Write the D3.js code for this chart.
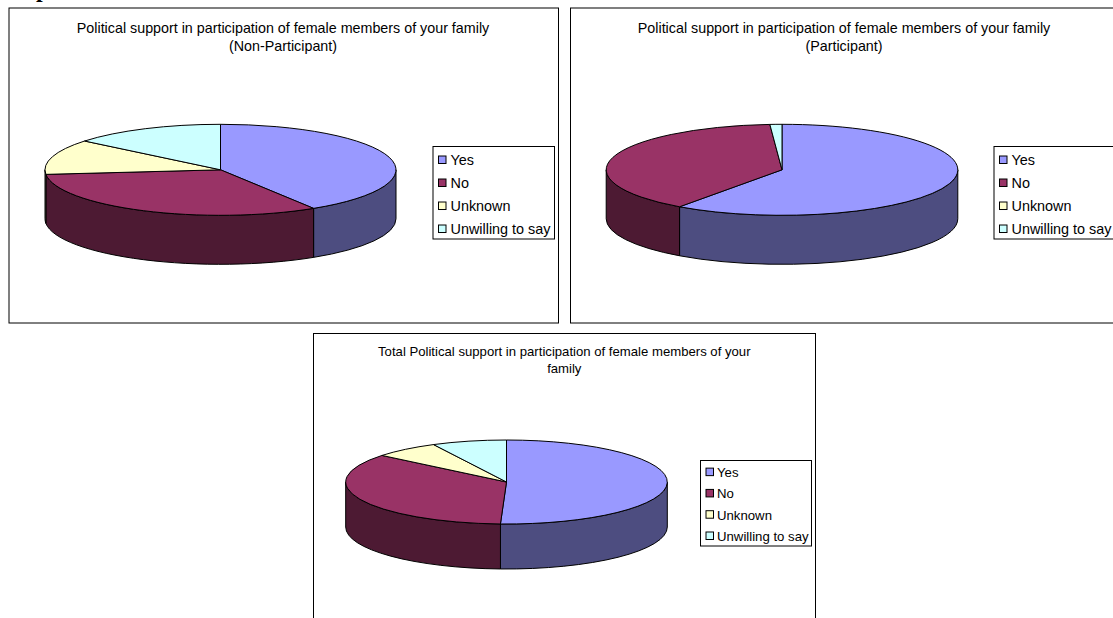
<!DOCTYPE html>
<html><head><meta charset="utf-8">
<style>html,body{margin:0;padding:0;background:#fff;overflow:hidden}svg{display:block}text{font-family:"Liberation Sans",Arial,sans-serif;fill:#000}</style>
<script src="https://cdn.jsdelivr.net/npm/d3@7"></script></head><body>
<script>
const categories = ["Yes","No","Unknown","Unwilling to say"];
const topColors = ["#9999FF","#993366","#FFFFCC","#CCFFFF"];
const sideColors = ["#4D4D80","#4D1A33","#808066","#668080"];
const nonParticipant = [41.1,32.3,12.5,14.1];
const participant = [59.9,39.0,0,1.1];
const total = [50.6,35.3,6.6,7.5];
const titles1 = ["Political support in participation of female members of your family","(Non-Participant)"];
const titles2 = ["Political support in participation of female members of your family","(Participant)"];
const titles3 = ["Total Political support in participation of female members of your","family"];

const charts = [
 {values:nonParticipant,title:titles1,frame:[9,8,549.5,315],cx:220.5,cy:169.8,rx:175.5,ry:45.5,d:49,titleX:283,titleY:[33,51],titleSize:14.3,legend:[433,146.5,121.5,92.5],legendSize:14.4,textOff:17.5,rows:[0.146,0.892]},
 {values:participant,title:titles2,frame:[570.5,8,560,315],cx:782,cy:169.8,rx:175.8,ry:45.5,d:49,titleX:844,titleY:[33,51],titleSize:14.3,legend:[994,146.5,121.5,92.5],legendSize:14.4,textOff:17.5,rows:[0.146,0.892]},
 {values:total,title:titles3,frame:[313.5,333.5,502,300],cx:506.5,cy:482,rx:160.8,ry:42,d:45,titleX:564.3,titleY:[356,372.7],titleSize:13.15,legend:[700.5,460.5,111,85.5],legendSize:13.2,textOff:16.5,rows:[0.136,0.883]}
];
const svg = d3.select("body").append("svg").attr("width",1113).attr("height",618);
svg.append("text").attr("x",36).attr("y",-3).attr("font-size",24).attr("font-weight","bold").style("font-family","'Liberation Serif',serif").text("p");

charts.forEach(c=>{
  const g = svg.append("g");
  g.append("rect").attr("x",c.frame[0]).attr("y",c.frame[1]).attr("width",c.frame[2]).attr("height",c.frame[3]).attr("fill","#fff").attr("stroke","#000").attr("stroke-width",1);
  c.title.forEach((t,i)=>g.append("text").attr("x",c.titleX).attr("y",c.titleY[i]).attr("text-anchor","middle").attr("font-size",c.titleSize).text(t));
  const arcs = d3.pie().sort(null).startAngle(0).endAngle(2*Math.PI)(c.values);
  const px = a=>c.cx+c.rx*Math.sin(a), py = a=>c.cy-c.ry*Math.cos(a);
  arcs.forEach(s=>{
    const a0=Math.max(s.startAngle,Math.PI/2), a1=Math.min(s.endAngle,3*Math.PI/2);
    if(a1<=a0) return;
    g.append("path").attr("fill",sideColors[s.index]).attr("stroke","#000").attr("stroke-width",1).attr("stroke-linejoin","round")
     .attr("d",`M${px(a0)},${py(a0)}A${c.rx},${c.ry} 0 0 1 ${px(a1)},${py(a1)}L${px(a1)},${py(a1)+c.d}A${c.rx},${c.ry} 0 0 0 ${px(a0)},${py(a0)+c.d}Z`);
  });
  const arc = d3.arc().innerRadius(0).outerRadius(c.rx);
  const top = g.append("g").attr("transform",`translate(${c.cx},${c.cy}) scale(1,${c.ry/c.rx})`);
  arcs.filter(s=>s.value>0).forEach(s=>{
    top.append("path").attr("d",arc(s)).attr("fill",topColors[s.index]).attr("stroke","#000").attr("stroke-width",1).attr("vector-effect","non-scaling-stroke");
  });
  const [lx,ly,lw,lh]=c.legend;
  const lg = g.append("g");
  lg.append("rect").attr("x",lx).attr("y",ly).attr("width",lw).attr("height",lh).attr("fill","#fff").attr("stroke","#000");
  const rowY = d3.scalePoint().domain(categories).range([ly+lh*c.rows[0],ly+lh*c.rows[1]]);
  categories.forEach((n,i)=>{
    lg.append("rect").attr("x",lx+5.5).attr("y",rowY(n)-4).attr("width",7.5).attr("height",7.5).attr("fill",topColors[i]).attr("stroke","#000");
    lg.append("text").attr("x",lx+c.textOff).attr("y",rowY(n)+5).attr("font-size",c.legendSize).text(n);
  });
});
</script></body></html>
